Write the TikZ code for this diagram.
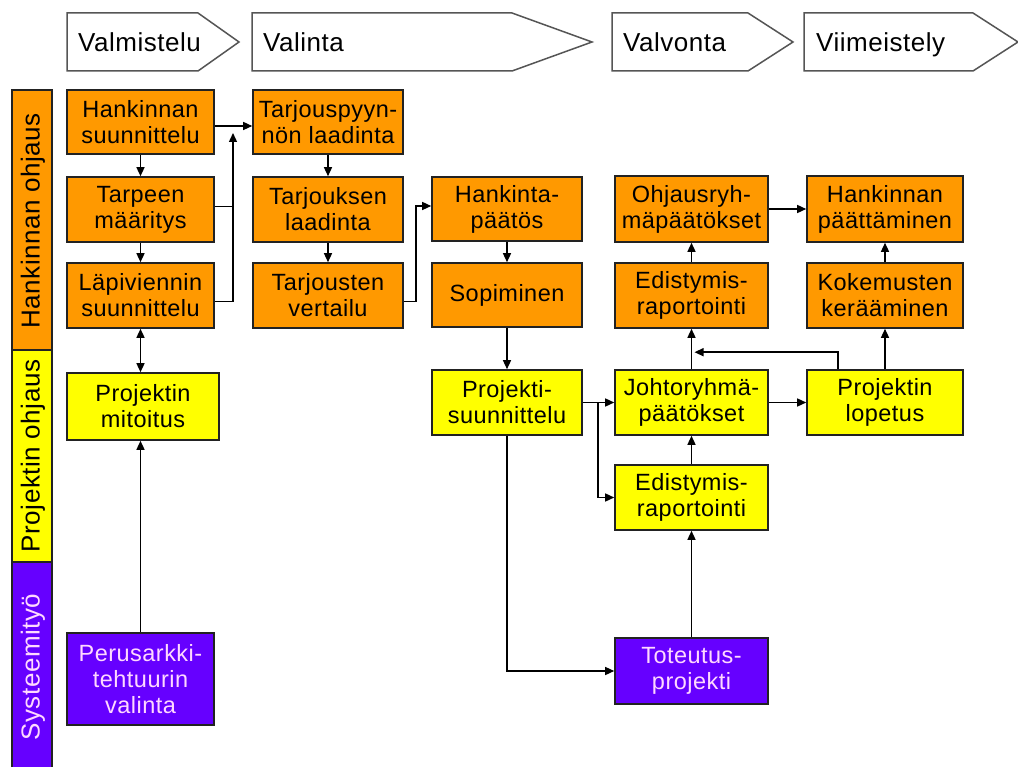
\documentclass[tikz,border=0pt]{standalone}
\usepackage{fontspec}
\setmainfont{Liberation Sans}[LetterSpace=2.0]
\usetikzlibrary{arrows.meta,calc}
\definecolor{orng}{HTML}{FF9900}
\definecolor{yllw}{HTML}{FFFF00}
\definecolor{prpl}{HTML}{6600FF}
\definecolor{pinktxt}{HTML}{FFD8FF}
\definecolor{edgec}{HTML}{222222}
\definecolor{chevc}{HTML}{555555}
\begin{document}
\begin{tikzpicture}[x=1pt,y=-1pt,
  box/.style={draw=edgec, line width=1.6pt, inner sep=0pt, align=center,
    font=\fontsize{23.5}{26}\selectfont, minimum height=65},
  obox/.style={box, fill=orng},
  ybox/.style={box, fill=yllw},
  pbox/.style={box, fill=prpl, text=pinktxt},
  chev/.style={draw=chevc, line width=1.5pt, fill=white},
  phase/.style={inner sep=0pt, anchor=base west, font=\fontsize{26}{28}\selectfont},
  lane/.style={draw=edgec, line width=1.6pt},
  lanetxt/.style={inner sep=0pt, rotate=90, font=\fontsize{26}{28}\selectfont},
  arr/.style={draw=black, line width=1.4pt, -{Triangle[length=9pt,width=8pt]}},
  dbl/.style={draw=black, line width=1.4pt, {Triangle[length=9pt,width=8pt]}-{Triangle[length=9pt,width=8pt]}},
  ln/.style={draw=black, line width=1.4pt}
]
\useasboundingbox (0,0) rectangle (1018,767);
\fill[white] (0,0) rectangle (1018,767);

% phase chevrons
\draw[chev] (67,13) -- (198,13) -- (239,42) -- (198,71) -- (67,71) -- cycle;
\draw[chev] (252,13) -- (512,13) -- (592,42) -- (512,71) -- (252,71) -- cycle;
\draw[chev] (612,13) -- (748,13) -- (793,42) -- (748,71) -- (612,71) -- cycle;
\draw[chev] (804,13) -- (973,13) -- (1018,42) -- (973,71) -- (804,71) -- cycle;
\node[phase] (ph1) at (78,52) {Valmistelu};
\node[phase] (ph2) at (263,52) {Valinta};
\node[phase] (ph3) at (623,52) {Valvonta};
\node[phase] (ph4) at (816,52) {Viimeistely};

% lanes
\draw[lane, fill=orng] (12,90) rectangle (52,350);
\draw[lane, fill=yllw] (12,350) rectangle (52,562);
\draw[lane, fill=prpl] (12,562) rectangle (52,780);
\node[lanetxt] (ln1) at (33,221) {Hankinnan ohjaus};
\node[lanetxt] (ln2) at (33,456) {Projektin ohjaus};
\node[lanetxt, text=pinktxt] (ln3) at (33,667) {Systeemityö};

% column 1
\node[obox, minimum width=147, minimum height=64] (hs) at (140.5,122) {Hankinnan\\suunnittelu};
\node[obox, minimum width=147] (tm) at (140.5,209.5) {Tarpeen\\määritys};
\node[obox, minimum width=147] (ls) at (140.5,295.5) {Läpiviennin\\suunnittelu};
\node[ybox, minimum width=152, minimum height=67] (pm) at (143,406.5) {Projektin\\mitoitus};
\node[pbox, minimum width=147, minimum height=92] (pv) at (140.5,679) {Perusarkki-\\tehtuurin\\valinta};

% column 2
\node[obox, minimum width=150, minimum height=64] (tp) at (328,122) {Tarjouspyyn-\\nön laadinta};
\node[obox, minimum width=150] (tl) at (328,209.5) {Tarjouksen\\laadinta};
\node[obox, minimum width=150] (tv) at (328,295.5) {Tarjousten\\vertailu};

% column 3
\node[obox, minimum width=150, minimum height=64] (hp) at (507,209) {Hankinta-\\päätös};
\node[obox, minimum width=150, minimum height=64] (so) at (507,295) {Sopiminen};
\node[ybox, minimum width=150] (ps) at (507,402.5) {Projekti-\\suunnittelu};

% column 4
\node[obox, minimum width=153, minimum height=66] (or) at (691.5,209) {Ohjausryh-\\mäpäätökset};
\node[obox, minimum width=153] (eo) at (691.5,295.5) {Edistymis-\\raportointi};
\node[ybox, minimum width=153] (jp) at (691.5,402.5) {Johtoryhmä-\\päätökset};
\node[ybox, minimum width=153] (ey) at (691.5,497.5) {Edistymis-\\raportointi};
\node[pbox, minimum width=153, minimum height=66] (tt) at (691.5,671) {Toteutus-\\projekti};

% column 5
\node[obox, minimum width=156, minimum height=66] (hpa) at (885,209) {Hankinnan\\päättäminen};
\node[obox, minimum width=156] (kk) at (885,295.5) {Kokemusten\\kerääminen};
\node[ybox, minimum width=156] (pl) at (885,402.5) {Projektin\\lopetus};

% connectors column 1
\draw[arr] (hs) -- (tm);
\draw[arr] (tm) -- (ls);
\draw[dbl] (ls.south) -- (ls.south |- pm.north);
\draw[arr] (pv.north) -- (pv.north |- pm.south);
\draw[arr] ([yshift=-4pt]hs.east) -- ([yshift=-4pt]tp.west);
\coordinate (jt) at (233,133);
\draw[arr] ([yshift=-6pt]ls.east) -| (jt);
\draw[ln] ([yshift=3pt]tm.east) -- ([yshift=3pt]tm.east -| jt);

% connectors column 2
\draw[arr] (tp) -- (tl);
\draw[arr] (tl) -- (tv);
\draw[arr] ([yshift=-6pt]tv.east) -- ++(12,0) |- ([yshift=3pt]hp.west);

% connectors column 3
\draw[arr] (hp) -- (so);
\draw[arr] (so) -- (ps);
\draw[arr] (ps) -- (jp);
\coordinate (br) at ($(ps.east)+(15,0)$);
\draw[arr] (br) |- (ey.west);
\draw[arr] (ps.south) |- (tt.west);

% connectors column 4/5
\draw[arr] (tt) -- (ey);
\draw[arr] (ey) -- (jp);
\draw[arr] (jp) -- (eo);
\draw[arr] (eo) -- (or);
\draw[arr] (or) -- (hpa);
\draw[arr] (jp) -- (pl);
\draw[arr] (pl) -- (kk);
\draw[arr] (kk) -- (hpa);
\coordinate (fb) at ($(jp.north)+(3,-17)$);
\draw[arr] ([xshift=-47pt]pl.north) |- (fb);
\end{tikzpicture}
\end{document}
